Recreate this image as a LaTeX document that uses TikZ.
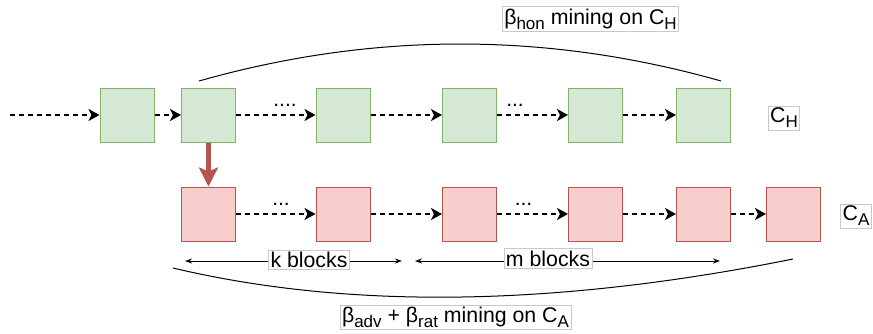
\documentclass[tikz,border=0pt]{standalone}
\usepackage{fontspec}
\setmainfont{Liberation Sans}
\usetikzlibrary{arrows.meta}
\definecolor{gfill}{HTML}{D5E8D4}
\definecolor{gdraw}{HTML}{82B366}
\definecolor{rfill}{HTML}{F8CECC}
\definecolor{rdraw}{HTML}{B85450}
\definecolor{lbldraw}{HTML}{C8C8C8}
\newcommand{\lsub}[1]{\raisebox{-5pt}{\fontsize{17}{17}\selectfont #1}}
\begin{document}
\begin{tikzpicture}[x=1pt,y=-1pt,
 blk/.style={minimum width=54pt,minimum height=54pt,inner sep=0pt,line width=1pt},
 gbox/.style={blk,fill=gfill,draw=gdraw},
 rbox/.style={blk,fill=rfill,draw=rdraw},
 darr/.style={dash pattern=on 5pt off 4pt, line width=1.8pt, -{Stealth[length=11pt,width=12pt,inset=3pt]}},
 redarr/.style={draw=rdraw, line width=5pt, -{Stealth[length=19pt,width=19pt,inset=4pt]}},
 lbl/.style={draw=lbldraw,fill=white,line width=0.8pt,inner sep=2pt,font=\fontsize{21.3}{24}\selectfont},
 dots/.style={font=\fontsize{21}{24}\selectfont,inner sep=0pt,anchor=base},
 span/.style={line width=0.9pt,{Stealth[length=7pt,width=5pt]}-{Stealth[length=7pt,width=5pt]}},
 arcline/.style={line width=1pt}]
\useasboundingbox (0,0) rectangle (873,333);
% green chain
\node[gbox] (g1) at (127,115) {};
\node[gbox] (g2) at (208.5,115) {};
\node[gbox] (g3) at (343,115) {};
\node[gbox] (g4) at (469.5,115) {};
\node[gbox] (g5) at (595.5,115) {};
\node[gbox] (g6) at (703.5,115) {};
% red chain
\node[rbox] (r1) at (208.5,214) {};
\node[rbox] (r2) at (343,214) {};
\node[rbox] (r3) at (469.5,214) {};
\node[rbox] (r4) at (595.5,214) {};
\node[rbox] (r5) at (703.5,214) {};
\node[rbox] (r6) at (793.5,214) {};
% dashed connectors
\coordinate (start) at (10,115);
\draw[darr] (start) -- (g1);
\draw[darr] (g1) -- (g2);
\draw[darr] (g2) -- (g3);
\draw[darr] (g3) -- (g4);
\draw[darr] (g4) -- (g5);
\draw[darr] (g5) -- (g6);
\draw[darr] (r1) -- (r2);
\draw[darr] (r2) -- (r3);
\draw[darr] (r3) -- (r4);
\draw[darr] (r4) -- (r5);
\draw[darr] (r5) -- (r6);
% fork arrow
\draw[redarr] (g2) -- (r1);
% dots
\node[dots] (d1) at (285,106) {....};
\node[dots] (d2) at (515,106) {...};
\node[dots] (d3) at (281,205) {...};
\node[dots] (d4) at (523.5,205) {...};
% arcs
\coordinate (ta) at (199,81);
\coordinate (tb) at (721,81);
\draw[arcline] (ta) .. controls (373,31.7) and (547,31.7) .. (tb);
\coordinate (ba) at (173,268);
\coordinate (bb) at (793,259);
\draw[arcline] (ba) .. controls (349,309.7) and (555.7,306.7) .. (bb);
% spans
\coordinate (k1) at (185,261);
\coordinate (k2) at (402,261);
\coordinate (m1) at (415,261);
\coordinate (m2) at (720,261);
\draw[span] (k1) -- (k2);
\draw[span] (m1) -- (m2);
\node[lbl] (kl) at (309,260) {k blocks};
\node[lbl] (ml) at (548,258.5) {m blocks};
% labels
\node[lbl] (ch) at (784,118) {C\lsub{H}};
\node[lbl] (ca) at (856,216) {C\lsub{A}};
\node[lbl] (top) at (590.5,19) {β\lsub{hon} mining on C\lsub{H}};
\node[lbl] (bot) at (455.5,317.5) {β\lsub{adv} + β\lsub{rat} mining on C\lsub{A}};
\end{tikzpicture}
\end{document}
